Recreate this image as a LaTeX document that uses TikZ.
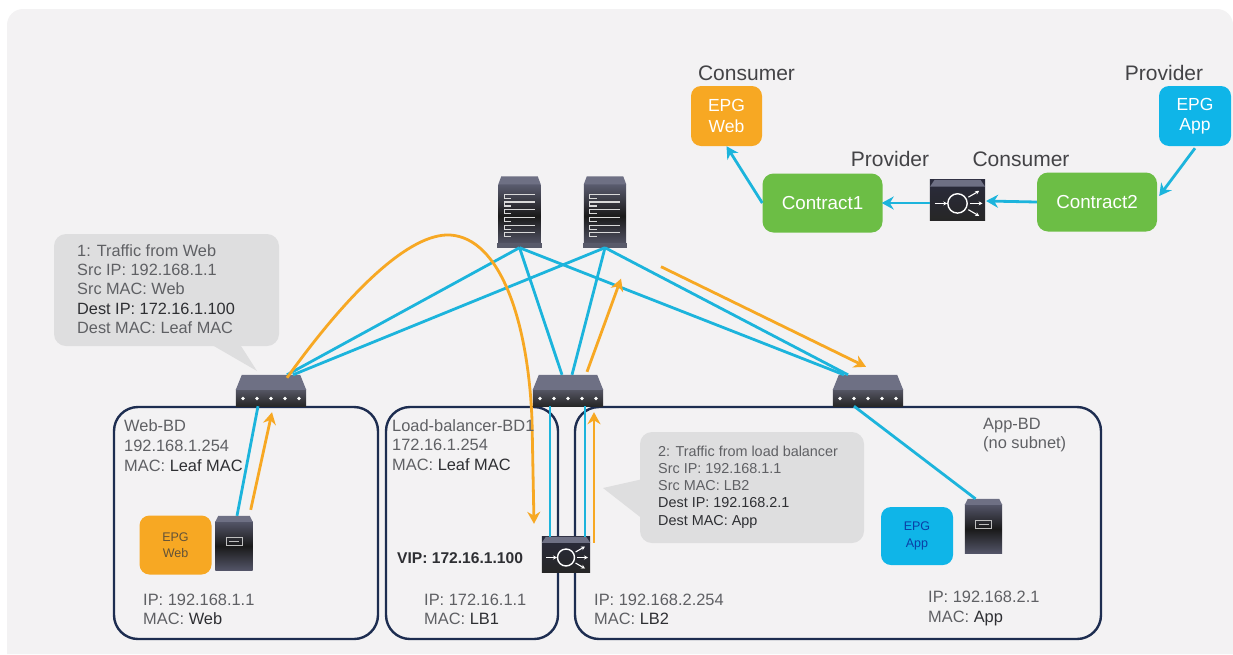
\documentclass[tikz,border=0pt]{standalone}
\usepackage{fontspec}
\setmainfont{Liberation Sans}
\usetikzlibrary{arrows.meta,positioning}
\definecolor{bgpage}{HTML}{F3F2F3}
\definecolor{navyline}{HTML}{1D2D50}
\definecolor{cyanline}{HTML}{1CB4DC}
\definecolor{orangeline}{HTML}{F7A823}
\definecolor{greenbox}{HTML}{6CBE45}
\definecolor{bluebox}{HTML}{0FB5E8}
\definecolor{notegray}{HTML}{DEDEDF}
\definecolor{txtgray}{HTML}{5F6064}
\definecolor{txtdark}{HTML}{2E2F33}
\definecolor{devdark}{HTML}{2A2B3C}
\definecolor{devtop}{HTML}{6E7084}
\newcommand{\fsz}[1]{\fontsize{#1}{#1}\selectfont}
% leaf: name, centre
\newcommand{\leafdev}[2]{
	\node[inner sep=0pt,minimum width=70pt,minimum height=31pt] (#1) at (#2) {};
	\shade[top color=devdark!80,bottom color=black!85] ([yshift=-15pt]#1.north west) rectangle (#1.south east);
	\fill[devtop] ([yshift=-15pt]#1.north west)--([xshift=6pt]#1.north west)--([xshift=-6pt]#1.north east)--([yshift=-15pt]#1.north east)--cycle;
	\foreach \k in {-2,...,2}
	\fill[white] ([xshift=\k*14pt,yshift=-8pt]#1.center) circle (1.8pt);
}
% spine: name, centre
\newcommand{\spinedev}[2]{
	\node[inner sep=0pt,minimum width=44pt,minimum height=71pt] (#1) at (#2) {};
	\shade[top color=devtop!70!devdark,bottom color=devtop!70!devdark,middle color=black!90] ([xshift=1pt,yshift=-8pt]#1.north west) rectangle ([xshift=-1pt]#1.south east);
	\fill[devtop] ([xshift=1pt,yshift=-8pt]#1.north west)--([xshift=4pt]#1.north west)--([xshift=-4pt]#1.north east)--([xshift=-1pt,yshift=-8pt]#1.north east)--cycle;
	\fill[devtop!80!black] ([yshift=5pt]#1.south west) rectangle (#1.south east);
	\foreach \k in {0,...,5} {
		\draw[white!85!black,line width=1.1pt] ([xshift=7pt,yshift=-18pt-\k*7.7pt]#1.north west)--([xshift=-7pt,yshift=-18pt-\k*7.7pt]#1.north east);
		\draw[white!85!black,line width=1.1pt] ([xshift=14pt,yshift=-18pt-\k*7.7pt]#1.north west)--++(-7pt,0)--++(0,-4pt)--++(7pt,0);
	}
}
% server: name, centre
\newcommand{\serverdev}[2]{
	\node[inner sep=0pt,minimum width=37pt,minimum height=54pt] (#1) at (#2) {};
	\shade[top color=devtop!60!devdark,bottom color=devtop!60!devdark,middle color=black!90] ([yshift=-6pt]#1.north west) rectangle (#1.south east);
	\fill[devtop] ([yshift=-6pt]#1.north west)--([xshift=3pt]#1.north west)--([xshift=-3pt]#1.north east)--([yshift=-6pt]#1.north east)--cycle;
	\draw[white!75!black,line width=.8pt] ([xshift=-8pt,yshift=-2pt]#1.center) rectangle ([xshift=8pt,yshift=6pt]#1.center);
	\draw[white!75!black,line width=.8pt] ([xshift=-5pt,yshift=2pt]#1.center)--([xshift=5pt,yshift=2pt]#1.center);
}
% load balancer: name, centre, size factor
\newcommand{\lbdev}[3]{
	\node[inner sep=0pt,minimum width=#3*48pt,minimum height=#3*35pt] (#1) at (#2) {};
	\shade[top color=devdark,bottom color=black!85] (#1.south west) rectangle (#1.north east);
	\fill[devtop] ([yshift=-#3*6pt]#1.north west)--([xshift=#3*4pt]#1.north west)--([xshift=-#3*4pt]#1.north east)--([yshift=-#3*6pt]#1.north east)--cycle;
	\draw[white,line width=1.4pt] ([yshift=-#3*3pt]#1.center) circle (#3*8.5pt);
	\draw[white,line width=1.1pt,-{Stealth[length=4pt,width=4pt]}] ([xshift=-#3*20pt,yshift=-#3*3pt]#1.center)--([xshift=-#3*9pt,yshift=-#3*3pt]#1.center);
	\foreach \ang in {-30,0,30}
	\draw[white,line width=1.1pt,-{Stealth[length=4pt,width=4pt]}] ([yshift=-#3*3pt]#1.center)++(\ang:#3*11pt)--++(\ang:#3*11pt);
}
\begin{document}
\begin{tikzpicture}[x=1pt,y=-1pt,
	bdbox/.style={draw=navyline,line width=2.4pt,rounded corners=24pt,inner sep=0pt},
	cyanconn/.style={draw=cyanline,line width=2.8pt},
	orangeconn/.style={draw=orangeline,line width=2.8pt,-{Stealth[length=12pt,width=13pt]}},
	cyanarrow/.style={draw=cyanline,line width=2.8pt,-{Stealth[length=12pt,width=13pt]}},
	epgbox/.style={rounded corners=10pt,inner sep=0pt,align=center},
	contractbox/.style={fill=greenbox,rounded corners=11pt,inner sep=0pt,minimum width=120pt,minimum height=59pt,text=white,font=\fsz{18.8}},
	notebox/.style={fill=notegray,rounded corners=12pt,inner sep=0pt},
	lbl/.style={inner sep=0pt,anchor=west,align=left,text=txtgray}]
	\useasboundingbox (0,0) rectangle (1233,654);
	\fill[bgpage,rounded corners=16pt] (7,654)--(7,9)--(1233,9)--(1233,654);
	% bridge domains
	\node[bdbox,minimum width=264pt,minimum height=232pt] (webbd) at (246,523) {};
	\node[bdbox,minimum width=172pt,minimum height=232pt] (lbbd) at (472,523) {};
	\node[bdbox,minimum width=526pt,minimum height=232pt] (appbd) at (838,523) {};
	% devices
	\spinedev{spine1}{519.5,212}
	\spinedev{spine2}{605,212}
	\leafdev{leaf1}{271,390.5}
	\leafdev{leaf2}{568,390.5}
	\leafdev{leaf3}{868,390.5}
	\serverdev{srvweb}{234,543}
	\serverdev{srvapp}{983.5,526}
	\lbdev{lb}{566,554.5}{1}
	\lbdev{fw}{957.5,200}{1.14}
	% fabric links
	\foreach \a/\shf/\b in {spine1/16pt/leaf1,spine2/22pt/leaf1,spine1/-6pt/leaf2,spine2/4pt/leaf2,spine1/-24pt/leaf3,spine2/-20pt/leaf3}
	\draw[cyanconn] (\a.south)--([xshift=\shf]\b.north);
	\draw[cyanconn] ([xshift=-13pt]leaf1.south)--([xshift=3pt]srvweb.north);
	\draw[cyanconn] ([xshift=-14pt]leaf3.south)--([xshift=-8pt]srvapp.north);
	\draw[cyanconn] ([xshift=-18pt]leaf2.south)--([xshift=-16pt]lb.north);
	\draw[cyanconn] ([xshift=17pt]leaf2.south)--([xshift=19pt]lb.north);
	% traffic
	\draw[orangeconn] ([xshift=16pt,yshift=-3pt]leaf1.north)..controls (350,290) and (410,233)..(450,235)..controls (500,238) and (528,320)..(532,420)--([xshift=-32pt,yshift=13pt]lb.north);
	\draw[orangeconn] ([xshift=28pt,yshift=-6pt]lb.north)--([xshift=26pt,yshift=-6pt]leaf2.south);
	\draw[orangeconn] ([xshift=-2pt,yshift=6pt]srvweb.north east)--([xshift=1pt,yshift=-6pt]leaf1.south);
	\draw[orangeconn] ([xshift=19pt,yshift=3pt]leaf2.north)--([xshift=16pt,yshift=-31pt]spine2.south);
	\draw[orangeconn] ([xshift=56pt,yshift=-19pt]spine2.south)--([xshift=-2pt,yshift=8pt]leaf3.north);
	% contract graph
	\node[epgbox,fill=orangeline,text=white,minimum width=71pt,minimum height=60pt,font=\fsz{17.5}] (epgwebtop) at (726.5,116) {EPG\\[3pt]Web};
	\node[epgbox,fill=bluebox,text=white,minimum width=72pt,minimum height=60pt,font=\fsz{17.5}] (epgapptop) at (1195,116) {EPG\\[3pt]App};
	\node[contractbox] (contract1) at (822.5,203) {Contract1};
	\node[contractbox] (contract2) at (1097,202) {Contract2};
	\draw[cyanarrow] (contract1.west)--(epgwebtop.south);
	\draw[cyanarrow] ([yshift=-3pt]fw.west)--([xshift=-1pt]contract1.east);
	\draw[cyanarrow] (contract2.west)--([xshift=1pt,yshift=-1pt]fw.east);
	\draw[cyanarrow] ([yshift=-2pt]epgapptop.south)--([xshift=2pt,yshift=6pt]contract2.east);
	\foreach \nhan/\vtri/\ten in {Consumer/{746.5,73}/c1,Provider/{1164,73}/c2,Provider/{890,159}/c3,Consumer/{1021,159}/c4}
	\node[inner sep=0pt,text=txtgray!70!black,font=\fsz{21}] (\ten) at (\vtri) {\nhan};
	% callouts
	\node[notebox,minimum width=225pt,minimum height=112pt] (note1) at (166.5,290) {};
	\fill[notegray] ([xshift=46pt,yshift=1pt]note1.south)--(257,371)--([xshift=74pt,yshift=1pt]note1.south)--cycle;
	\node[lbl,font=\fsz{16.3}] (note1txt) at (77,289) {1: Traffic from Web\\[3.1pt]Src IP: 192.168.1.1\\[3.1pt]Src MAC: Web\\[3.1pt]\textcolor{txtdark}{Dest IP: 172.16.1.100}\\[3.1pt]Dest MAC: Leaf MAC};
	\node[notebox,minimum width=224pt,minimum height=111pt] (note2) at (752,487.5) {};
	\fill[notegray] ([xshift=1pt,yshift=8pt]note2.west)--(603,488)--([xshift=1pt,yshift=-30pt]note2.west)--cycle;
	\node[lbl,font=\fsz{14.4}] (note2txt) at (658,487) {2: Traffic from load balancer\\[2.8pt]Src IP: 192.168.1.1\\[2.8pt]Src MAC: LB2\\[2.8pt]\textcolor{txtdark}{Dest IP: 192.168.2.1}\\[2.8pt]\textcolor{txtdark}{Dest MAC: App}};
	% endpoint groups
	\node[epgbox,fill=orangeline,text=txtgray!70!orangeline!70!black,minimum width=72pt,minimum height=59pt,font=\fsz{12.5}] (epgweb) at (175.5,545) {EPG\\[4pt]Web};
	\node[epgbox,fill=bluebox,text=blue!50!cyanline!70!black,minimum width=72pt,minimum height=58pt,font=\fsz{12.5}] (epgapp) at (917,536) {EPG\\[4pt]App};
	% labels
	\foreach \nhan/\vtri/\ten in {Web-BD\\[3.6pt]192.168.1.254\\[3.6pt]MAC: \textcolor{txtdark}{Leaf MAC}/{124,446}/t1,Load-balancer-BD1\\[3pt]172.16.1.254\\[3pt]MAC: \textcolor{txtdark}{Leaf MAC}/{392,445}/t2,App-BD\\[2.6pt](no subnet)/{983,435.5}/t3,IP: 192.168.1.1\\[2.6pt]MAC: \textcolor{txtdark}{Web}/{143,609.5}/t4,IP: 172.16.1.1\\[2.6pt]MAC: \textcolor{txtdark}{LB1}/{424,609.5}/t5,IP: 192.168.2.254\\[2.6pt]MAC: \textcolor{txtdark}{LB2}/{594,609.5}/t6,IP: 192.168.2.1\\[3.6pt]MAC: \textcolor{txtdark}{App}/{928,608}/t7}
	\node[lbl,font=\fsz{16.4}] (\ten) at (\vtri) {\nhan};
	\node[lbl,text=txtdark,font=\bfseries\fsz{15.6}] (vip) at (397,558) {VIP: 172.16.1.100};
\end{tikzpicture}
\end{document}
